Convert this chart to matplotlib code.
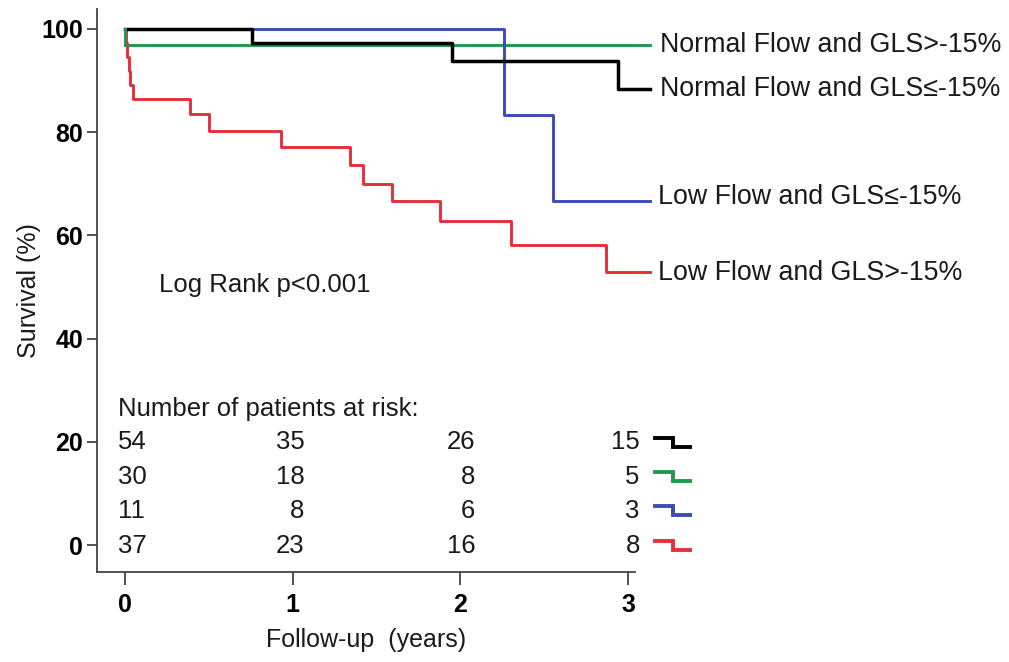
import numpy as np
import matplotlib
matplotlib.use("Agg")
import matplotlib.pyplot as plt

plt.rcParams['font.family'] = ['Liberation Sans', 'DejaVu Sans']

# Kaplan-Meier step data (time in years, survival %)
t_nf_hi = [0, 3.13]
s_nf_hi = [96.8, 96.8]
t_nf_lo = [0, 0.76, 1.95, 2.94, 3.13]
s_nf_lo = [100, 97.3, 93.7, 88.3, 88.3]
t_lf_lo = [0, 2.26, 2.55, 3.13]
s_lf_lo = [100, 83.4, 66.7, 66.7]
t_lf_hi = [0, 0.005, 0.012, 0.022, 0.032, 0.045, 0.39, 0.50, 0.93, 1.34, 1.42,
           1.59, 1.88, 2.30, 2.87, 3.13]
s_lf_hi = [100, 97.3, 94.6, 91.9, 89.2, 86.5, 83.5, 80.3, 77.1, 73.7, 70.0,
           66.6, 62.8, 58.2, 52.9, 52.9]

labels = ["Normal Flow and GLS>-15%", "Normal Flow and GLS\u2264-15%",
          "Low Flow and GLS\u2264-15%", "Low Flow and GLS>-15%"]
label_y = [96.8, 88.3, 67.5, 52.8]
colors = ["#1f9a4c", "#000000", "#3b4db3", "#e5303a"]

# number at risk (rows: black, green, blue, red)
risk_times = [0, 1, 2, 3]
risk_nf_lo = [54, 35, 26, 15]
risk_nf_hi = [30, 18, 8, 5]
risk_lf_lo = [11, 8, 6, 3]
risk_lf_hi = [37, 23, 16, 8]

txt = "#1a1a1a"
fig = plt.figure(figsize=(10.09, 6.62), dpi=100)
ax = fig.add_axes([0.0961, 0.136, 0.533, 0.85])

# green first so black drawn on top at start
ax.step(t_nf_hi, s_nf_hi, where='post', color=colors[0], lw=2.1, clip_on=False)
ax.step(t_lf_lo, s_lf_lo, where='post', color=colors[2], lw=2.1, clip_on=False)
ax.step(t_lf_hi, s_lf_hi, where='post', color=colors[3], lw=2.1, clip_on=False)
ax.step(t_nf_lo, s_nf_lo, where='post', color=colors[1], lw=2.5, clip_on=False)
ax.plot([0, 0], [100, 96.8], color=colors[0], lw=2.1)

for lab, yy, xx in zip(labels, label_y, [3.19, 3.19, 3.18, 3.18]):
    ax.text(xx, yy, lab, fontsize=19.3, color=txt, va='center', ha='left',
            clip_on=False)

ax.text(0.2, 50.3, "Log Rank p<0.001", fontsize=18.5, color=txt, va='center')

# risk table
ax.text(-0.04, 26.3, "Number of patients at risk:", fontsize=18.5, color=txt,
        va='center')
rows = [risk_nf_lo, risk_nf_hi, risk_lf_lo, risk_lf_hi]
row_y = [19.9, 13.2, 6.6, -0.1]
col_x = [-0.04, 1.07, 2.09, 3.07]
icon_colors = [colors[1], colors[0], colors[2], colors[3]]
for r, yy, ic in zip(rows, row_y, icon_colors):
    for j, v in enumerate(r):
        ax.text(col_x[j], yy, str(v), fontsize=18.5, color=txt, va='center',
                ha='left' if j == 0 else 'right', clip_on=False)
    # small step icon
    ix = np.array([3.16, 3.27, 3.27, 3.37])
    iy = np.array([0.9, 0.9, -0.8, -0.8]) + yy
    ax.plot(ix, iy, color=ic, lw=2.8, clip_on=False, solid_joinstyle='miter')

ax.set_xlim(-0.167, 3.04)
ax.set_ylim(-5.2, 103.8)
ax.set_xticks(risk_times)
ax.set_yticks([0, 20, 40, 60, 80, 100])
ax.tick_params(axis='both', labelsize=18, width=1.3, color='#444444')
ax.tick_params(axis='y', length=7, pad=3)
ax.tick_params(axis='x', length=9, pad=6)
for lb in ax.get_xticklabels() + ax.get_yticklabels():
    lb.set_fontweight('bold')
ax.spines['top'].set_visible(False)
ax.spines['right'].set_visible(False)
for s in ['left', 'bottom']:
    ax.spines[s].set_linewidth(1.3)
    ax.spines[s].set_color('#444444')

ax.set_xlabel("Follow-up  (years)", fontsize=18, color=txt, labelpad=8)
ax.set_ylabel("Survival (%)", fontsize=18, color=txt, labelpad=0)

fig.savefig("out.png", dpi=100)
